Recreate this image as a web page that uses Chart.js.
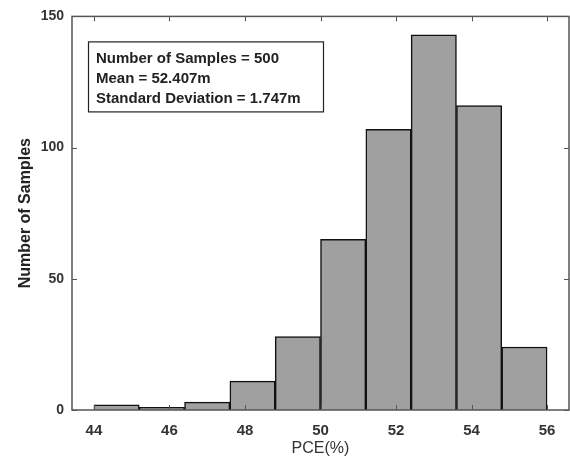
<!DOCTYPE html>
<html>
<head>
<meta charset="utf-8">
<script src="https://cdn.jsdelivr.net/npm/chart.js@4"></script>
<style>
  body { margin: 0; background: #fff; }
</style>
</head>
<body>
<canvas id="histChart" width="570" height="461"></canvas>
<script>
// histogram bins (PCE %), 10 bins from 44 to 56
const binEdges = [44, 45.2, 46.4, 47.6, 48.8, 50, 51.2, 52.4, 53.6, 54.8, 56];
const counts = [2, 1, 3, 11, 28, 65, 107, 143, 116, 24];
const xTicks = [44, 46, 48, 50, 52, 54, 56];
const yTicks = [0, 50, 100, 150];
const statsLines = [
  'Number of Samples = 500',
  'Mean = 52.407m',
  'Standard Deviation = 1.747m'
];

const points = counts.map((c, i) => ({ x: (binEdges[i] + binEdges[i + 1]) / 2, y: c }));

const FONT = "'Liberation Sans', Arial, sans-serif";

// matlab-ish box around plot with inward ticks + stats text box
const boxPlugin = {
  id: 'boxPlugin',
  afterDraw(chart) {
    const { ctx, chartArea: a, scales } = chart;
    ctx.save();
    ctx.strokeStyle = '#555';
    ctx.lineWidth = 1.5;
    ctx.strokeRect(a.left, a.top, a.right - a.left, a.bottom - a.top);
    ctx.lineWidth = 1;
    const len = 5;
    ctx.beginPath();
    xTicks.forEach(v => {
      const px = Math.round(scales.x.getPixelForValue(v)) + 0.5;
      ctx.moveTo(px, a.bottom); ctx.lineTo(px, a.bottom - len);
      ctx.moveTo(px, a.top); ctx.lineTo(px, a.top + len);
    });
    yTicks.forEach(v => {
      const py = Math.round(scales.y.getPixelForValue(v)) + 0.5;
      ctx.moveTo(a.left, py); ctx.lineTo(a.left + len, py);
      ctx.moveTo(a.right, py); ctx.lineTo(a.right - len, py);
    });
    ctx.stroke();

    // stats box
    const bx = a.left + 16, by = a.top + 25, bw = 235, bh = 70;
    ctx.fillStyle = '#fff';
    ctx.fillRect(bx, by, bw, bh);
    ctx.strokeStyle = '#222';
    ctx.lineWidth = 1.2;
    ctx.strokeRect(bx + 0.5, by + 0.5, bw, bh);
    ctx.fillStyle = '#222';
    ctx.font = 'bold 15px ' + FONT;
    ctx.textBaseline = 'middle';
    statsLines.forEach((t, i) => {
      ctx.fillText(t, bx + 8, by + 17 + i * 20);
    });
    ctx.restore();
  }
};

new Chart(document.getElementById('histChart'), {
  type: 'bar',
  data: {
    datasets: [{
      data: points,
      backgroundColor: '#a0a0a0',
      borderColor: '#111',
      borderWidth: 1.5,
      barPercentage: 1,
      categoryPercentage: 1
    }]
  },
  options: {
    responsive: false,
    animation: false,
    layout: { padding: { top: 15, right: 1, left: 0, bottom: 0 } },
    plugins: { legend: { display: false }, tooltip: { enabled: false } },
    scales: {
      x: {
        type: 'linear',
        min: 43.42,
        max: 56.58,
        offset: false,
        grid: { display: false, drawTicks: false },
        border: { display: false },
        afterBuildTicks: s => { s.ticks = xTicks.map(v => ({ value: v })); },
        afterFit: s => { s.height = 51; },
        ticks: { color: '#333', padding: 12, font: { family: FONT, size: 15, weight: 'bold' } },
        title: { display: true, text: 'PCE(%)', color: '#333', padding: { top: 2, bottom: 3 }, font: { family: FONT, size: 16 } }
      },
      y: {
        min: 0,
        max: 150,
        grid: { display: false, drawTicks: false },
        border: { display: false },
        afterBuildTicks: s => { s.ticks = yTicks.map(v => ({ value: v })); },
        afterFit: s => { s.width = 72; },
        ticks: { color: '#333', padding: 8, font: { family: FONT, size: 14, weight: 'bold' } },
        title: { display: true, text: 'Number of Samples', color: '#222', padding: { top: 16, bottom: 4 }, font: { family: FONT, size: 16, weight: 'bold' } }
      }
    }
  },
  plugins: [boxPlugin]
});
</script>
</body>
</html>
